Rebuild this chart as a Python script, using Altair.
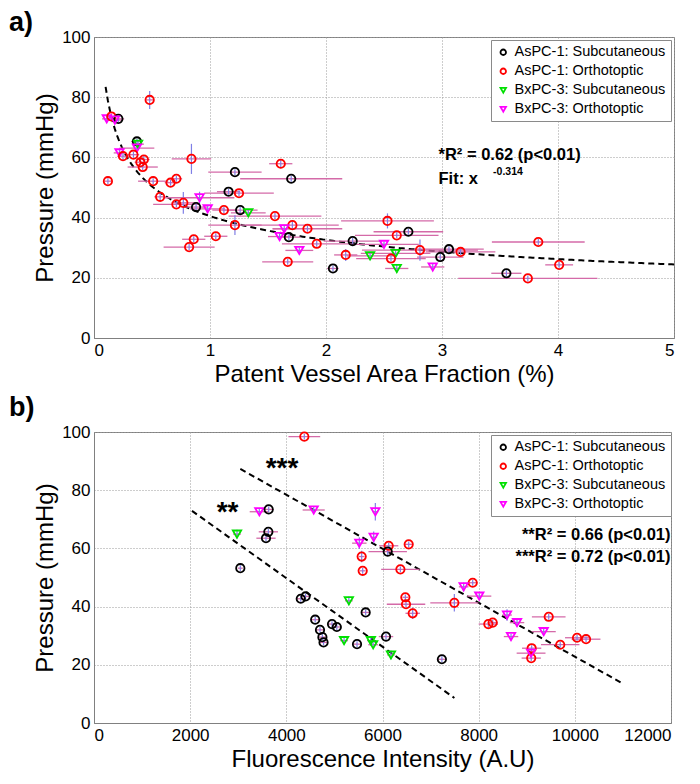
import altair as alt
import pandas as pd

GROUPS = ["AsPC-1: Subcutaneous", "AsPC-1: Orthotoptic", "BxPC-3: Subcutaneous", "BxPC-3: Orthotoptic"]
COLORS = ["#000000", "#ff0000", "#00e000", "#ff00ff"]
SHAPES = ["circle", "circle", "triangle-down", "triangle-down"]

# ---------- panel a: pressure vs patent vessel area fraction ----------
a_group = [1, 1, 3, 1, 0, 3, 0, 2, 3, 3, 1, 1, 1, 1, 1, 1, 1, 0, 0, 1, 1, 1, 0, 1, 3, 1, 1, 1, 0, 3,
           1, 0, 2, 1, 1, 1, 3, 3, 1, 0, 1, 1, 1, 1, 3, 1, 0, 1, 0, 2, 3, 1, 1, 0, 2, 2, 1, 1, 3, 0,
           0, 1, 0, 1, 1, 1]
a_x = [0.12, 0.48, 0.11, 0.15, 0.21, 0.18, 0.37, 0.38, 0.37, 0.22, 0.25, 0.34, 0.43, 0.40, 0.42, 0.84,
       1.61, 1.215, 1.70, 0.51, 0.66, 0.71, 1.16, 1.25, 0.91, 0.57, 0.71, 0.77, 0.88, 0.98, 1.12, 1.26,
       1.33, 1.56, 1.215, 1.71, 1.64, 1.60, 1.84, 1.68, 1.05, 0.86, 0.82, 1.92, 1.77, 1.67, 2.06, 2.17,
       2.23, 2.38, 2.50, 2.53, 2.61, 2.71, 2.60, 2.61, 2.56, 2.81, 2.92, 2.985, 3.06, 3.16, 3.555, 3.74,
       3.83, 4.01]
a_y = [52.1, 79.1, 72.8, 73.6, 72.8, 72.4, 65.3, 64.4, 63.1, 61.5, 60.4, 60.9, 59.3, 58.4, 56.8, 59.5,
       57.9, 55.1, 52.9, 52.1, 51.6, 52.9, 48.6, 48.1, 46.6, 46.9, 44.4, 44.9, 43.5, 42.9, 42.5, 42.5,
       41.6, 40.5, 37.5, 37.5, 36.3, 33.7, 36.3, 33.5, 33.8, 32.8, 30.2, 31.3, 29.1, 25.3, 23.1, 27.6,
       32.2, 27.3, 31.1, 38.9, 34.1, 35.3, 28.1, 23.1, 26.4, 29.2, 23.6, 26.9, 29.5, 28.6, 21.5, 19.8,
       31.9, 24.3]
a_xerr = [0.03, 0.03, 0.04, 0.04, 0.05, 0.06, 0.05, 0.05, 0.15, 0.05, 0.05, 0.05, 0.05, 0.05, 0.13, 0.17,
          0.10, 0.23, 0.44, 0.13, 0.05, 0.05, 0.10, 0.30, 0.30, 0.05, 0.20, 0.10, 0.10, 0.15, 0.10, 0.15,
          0.15, 0.40, 0.23, 0.40, 0.10, 0.10, 0.30, 0.10, 0.10, 0.10, 0.22, 0.30, 0.12, 0.22, 0.05, 0.10,
          0.25, 0.20, 0.30, 0.40, 0.36, 0.30, 0.30, 0.10, 0.30, 0.50, 0.10, 0.20, 0.30, 0.30, 0.13, 0.60,
          0.40, 0.12]
a_yerr = [1.0, 3.0, 1.0, 1.0, 1.0, 1.0, 1.0, 1.0, 1.0, 1.5, 1.5, 1.0, 1.5, 1.0, 1.0, 5.0,
          1.5, 1.0, 1.0, 1.0, 1.0, 1.0, 1.0, 1.0, 2.0, 1.5, 1.0, 3.6, 1.0, 1.0, 1.0, 1.0,
          1.0, 1.0, 3.3, 1.5, 1.0, 1.0, 1.0, 1.0, 1.0, 1.0, 1.0, 1.0, 1.0, 1.0, 1.0, 2.0,
          1.0, 1.0, 1.0, 2.5, 1.0, 1.0, 1.0, 1.5, 1.0, 3.5, 1.0, 1.0, 1.0, 1.0, 1.0, 1.0,
          1.0, 1.0]
FIT_A_COEF = 40.5
FIT_A_EXP = -0.314
a_notes = ["*R² = 0.62 (p<0.01)", "Fit: x"]
a_notes_x = [2.97, 2.97]
a_notes_y = [60.7, 52.9]
a_sup = ["-0.314"]
a_sup_x = [3.44]
a_sup_y = [55.0]

# ---------- panel b: pressure vs fluorescence intensity ----------
b_group = [1, 3, 0, 3, 2, 0, 0, 0, 3, 3, 3, 1, 1, 1, 0, 1, 1, 1, 3, 3, 1, 1, 1, 1, 0, 3, 3, 1, 1, 1,
           3, 1, 1, 3, 0, 2, 0, 2, 2, 2, 0, 1, 1, 3, 1,
           0, 0, 0, 0, 0, 0, 0, 2, 0]
b_x = [4374, 3438, 3633, 4569, 2974, 3626, 3577, 3043, 5851, 5817, 5518, 5567, 5588, 6129, 6108, 6545,
       6372, 7876, 7688, 8013, 7494, 6475, 6489, 6628, 6073, 8590, 8798, 8201, 8292, 9457, 9353, 10046,
       10233, 8673, 4774, 5201, 5470, 5758, 5805, 6176, 7235, 9102, 9093, 9090, 9696,
       4300, 4400, 4600, 4700, 4750, 4950, 5050, 5300, 5650]
b_y = [98.4, 72.6, 73.4, 73.2, 64.9, 65.7, 63.5, 53.2, 72.6, 63.8, 61.8, 57.2, 52.3, 60.9, 58.9, 61.4,
       52.8, 48.2, 46.8, 43.6, 41.3, 43.2, 40.8, 37.7, 29.7, 37.1, 34.5, 34.0, 34.5, 36.5, 31.4, 29.3,
       28.8, 29.7, 27.7, 28.3, 27.1, 28.3, 26.9, 23.4, 21.9, 25.7, 22.3, 24.0, 26.9,
       42.7, 43.5, 35.5, 32.0, 29.5, 34.0, 33.0, 42.0, 38.0]
b_xerr = [330, 200, 100, 230, 80, 200, 200, 50, 60, 60, 150, 60, 60, 200, 400, 80,
          400, 100, 100, 250, 500, 60, 400, 150, 150, 100, 150, 200, 100, 350, 250, 250,
          300, 150, 80, 80, 80, 80, 100, 80, 80, 200, 200, 300, 400,
          80, 80, 80, 80, 80, 80, 80, 80, 80]
b_yerr = [1.0, 1.0, 1.0, 1.0, 1.5, 1.0, 1.0, 1.0, 3.0, 2.0, 2.0, 2.0, 1.0, 1.0, 1.5, 1.0,
          1.0, 1.0, 1.5, 1.0, 3.0, 1.0, 1.0, 2.0, 1.0, 2.0, 1.0, 1.0, 1.0, 1.0, 1.0, 1.0,
          1.0, 1.0, 1.0, 1.0, 1.0, 1.0, 1.0, 1.5, 1.0, 1.0, 1.0, 1.0, 1.0,
          1.0, 1.0, 1.0, 1.0, 1.0, 1.0, 1.0, 1.5, 1.0]
b_fit_id = ["**", "**", "***", "***"]
b_fit_x = [2038, 7495, 3043, 10960]
b_fit_y = [72.9, 8.6, 87.3, 13.9]
b_stars = ["**", "***"]
b_stars_x = [2777, 3910]
b_stars_y = [74.6, 89.7]
b_notes = ["**R² = 0.66 (p<0.01)", "***R² = 0.72 (p<0.01)"]
b_notes_x = [11990, 11990]
b_notes_y = [64.6, 57.0]

FONT = "Liberation Sans"
HBAR = "#d46aa8"
VBAR = "#7f7fe6"


def frame(xs, ys, xe, ye, gs):
    d = pd.DataFrame({"x": xs, "y": ys, "xerr": xe, "yerr": ye,
                      "group": [GROUPS[g] for g in gs]})
    d["xlo"] = d["x"] - d["xerr"]
    d["xhi"] = d["x"] + d["xerr"]
    d["ylo"] = d["y"] - d["yerr"]
    d["yhi"] = d["y"] + d["yerr"]
    return d


def axis(values, title):
    return alt.Axis(values=values, title=title, format="d", grid=True, gridDash=[1, 2],
                    gridColor="#9a9a9a", ticks=False, domainColor="#808080", labelFontSize=17,
                    titleFontSize=24, titleFontWeight="normal", labelPadding=4)


def legend():
    return alt.Legend(title=None, orient="none", legendX=397, legendY=3, fillColor="white",
                      strokeColor="#8a8a8a", padding=5, labelFontSize=14.5, labelFont=FONT,
                      symbolSize=30, symbolStrokeWidth=1.8, rowPadding=4, labelOffset=4,
                      labelLimit=300)


def panel(d, xdom, xvals, xtitle):
    xs = alt.Scale(domain=xdom, nice=False)
    ys = alt.Scale(domain=[0, 100], nice=False)
    base = alt.Chart(d)
    hbar = base.mark_rule(color=HBAR, strokeWidth=1.3).encode(
        x=alt.X("xlo:Q", scale=xs, axis=axis(xvals, xtitle)), x2="xhi:Q",
        y=alt.Y("y:Q", scale=ys, axis=axis([0, 20, 40, 60, 80, 100], "Pressure (mmHg)")))
    vbar = base.mark_rule(color=VBAR, strokeWidth=1.2).encode(
        x=alt.X("x:Q", scale=xs), y=alt.Y("ylo:Q", scale=ys), y2="yhi:Q")
    pts = base.mark_point(filled=False, strokeWidth=1.8, size=70, opacity=1).encode(
        x=alt.X("x:Q", scale=xs), y=alt.Y("y:Q", scale=ys),
        color=alt.Color("group:N", scale=alt.Scale(domain=GROUPS, range=COLORS), legend=legend()),
        shape=alt.Shape("group:N", scale=alt.Scale(domain=GROUPS, range=SHAPES), legend=legend()))
    return [hbar, vbar, pts], xs, ys


# panel a
da = frame(a_x, a_y, a_xerr, a_yerr, a_group)
la, xsa, ysa = panel(da, [0, 5], [0, 1, 2, 3, 4, 5], "Patent Vessel Area Fraction (%)")
fit_a = alt.Chart(alt.sequence(0.1, 5.001, 0.02, as_="x")).transform_calculate(
    y=f"{FIT_A_COEF} * pow(datum.x, {FIT_A_EXP})"
).mark_line(color="black", strokeDash=[6, 4], strokeWidth=2).encode(
    x=alt.X("x:Q", scale=xsa), y=alt.Y("y:Q", scale=ysa))
notes_a = alt.Chart(pd.DataFrame({"t": a_notes, "x": a_notes_x, "y": a_notes_y})).mark_text(
    align="left", baseline="middle", font=FONT, fontSize=16.5, fontWeight="bold").encode(
    x=alt.X("x:Q", scale=xsa), y=alt.Y("y:Q", scale=ysa), text="t:N")
sup_a = alt.Chart(pd.DataFrame({"t": a_sup, "x": a_sup_x, "y": a_sup_y})).mark_text(
    align="left", baseline="middle", font=FONT, fontSize=10.5, fontWeight="bold").encode(
    x=alt.X("x:Q", scale=xsa), y=alt.Y("y:Q", scale=ysa), text="t:N")
lab_a = alt.Chart(pd.DataFrame({"t": ["a)"]})).mark_text(
    align="left", baseline="middle", font=FONT, fontSize=27, fontWeight="bold").encode(
    x=alt.value(-85), y=alt.value(-14), text="t:N")
chart_a = alt.layer(fit_a, *la, notes_a, sup_a, lab_a).properties(width=580, height=301)

# panel b
db = frame(b_x, b_y, b_xerr, b_yerr, b_group)
lb, xsb, ysb = panel(db, [0, 12000], list(range(0, 12001, 2000)), "Fluorescence Intensity (A.U)")
fit_b = alt.Chart(pd.DataFrame({"id": b_fit_id, "x": b_fit_x, "y": b_fit_y})).mark_line(
    color="black", strokeDash=[6, 4], strokeWidth=2).encode(
    x=alt.X("x:Q", scale=xsb), y=alt.Y("y:Q", scale=ysb), detail="id:N")
stars_b = alt.Chart(pd.DataFrame({"t": b_stars, "x": b_stars_x, "y": b_stars_y})).mark_text(
    align="center", baseline="middle", font=FONT, fontSize=28, fontWeight="bold", dy=7).encode(
    x=alt.X("x:Q", scale=xsb), y=alt.Y("y:Q", scale=ysb), text="t:N")
notes_b = alt.Chart(pd.DataFrame({"t": b_notes, "x": b_notes_x, "y": b_notes_y})).mark_text(
    align="right", baseline="middle", font=FONT, fontSize=16.5, fontWeight="bold").encode(
    x=alt.X("x:Q", scale=xsb), y=alt.Y("y:Q", scale=ysb), text="t:N")
lab_b = alt.Chart(pd.DataFrame({"t": ["b)"]})).mark_text(
    align="left", baseline="middle", font=FONT, fontSize=27, fontWeight="bold").encode(
    x=alt.value(-85), y=alt.value(-24), text="t:N")
chart_b = alt.layer(fit_b, *lb, stars_b, notes_b, lab_b).properties(width=577, height=291)

chart = alt.vconcat(chart_a, chart_b, spacing=6).resolve_scale(
    color="independent", shape="independent", x="independent", y="independent"
).properties(padding={"left": 0, "top": 0, "right": 5, "bottom": 5}).configure_axis(
    labelFont=FONT, titleFont=FONT, labelColor="black", titleColor="black"
).configure_view(stroke="#808080", strokeWidth=1)

chart.save("out.html", embed_options={"renderer": "svg", "actions": False})
